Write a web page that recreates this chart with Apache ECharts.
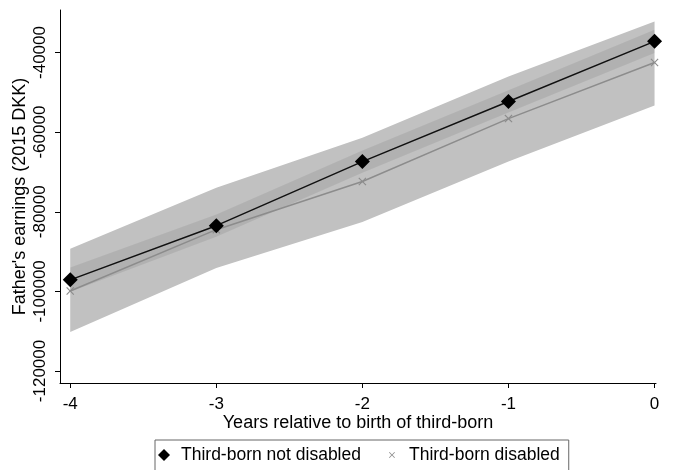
<!DOCTYPE html>
<html><head><meta charset="utf-8">
<script src="https://cdn.jsdelivr.net/npm/echarts@6/dist/echarts.min.js"></script>
<style>html,body{margin:0;padding:0;background:#fff}#c{width:674px;height:470px}</style>
</head><body><div id="c"></div>
<script>
const years = [-4, -3, -2, -1, 0];
const notDisabled = [-97100, -83500, -67400, -52300, -37200];
const notDisabledLo = [-100100, -86300, -70200, -55100, -40100];
const notDisabledHi = [-94000, -80700, -64600, -49500, -34300];
const disabled = [-99900, -84500, -72400, -56600, -42500];
const disabledLo = [-110200, -94100, -82600, -67400, -53300];
const disabledHi = [-89300, -74000, -61400, -46000, -32200];
const yTicks = [-120000, -100000, -80000, -60000, -40000];
const xTicks = [-4, -3, -2, -1, 0];

const F = 'Liberation Sans, Arial, sans-serif';
const xPath = 'path://M0,1 L1,0 L5,4 L9,0 L10,1 L6,5 L10,9 L9,10 L5,6 L1,10 L0,9 L4,5 Z';
const xPathSmall = 'path://M0,0 L0.01,0 L0,0.01 Z M20,20 L19.99,20 L20,19.99 Z M5,6 L6,5 L10,9 L14,5 L15,6 L11,10 L15,14 L14,15 L10,11 L6,15 L5,14 L9,10 Z';
const pairs = (arr) => years.map((x, i) => [x, arr[i]]);

function band(name, lo, hi, color, z) {
  return {
    type: 'custom', name: name, data: pairs(lo), silent: true, z: z,
    encode: {x: 0, y: 1},
    renderItem: function (params, api) {
      if (params.dataIndex !== 0) return null;
      const pts = [];
      for (let i = 0; i < years.length; i++) pts.push(api.coord([years[i], hi[i]]));
      for (let i = years.length - 1; i >= 0; i--) pts.push(api.coord([years[i], lo[i]]));
      return {type: 'polygon', shape: {points: pts}, style: {fill: color}};
    }
  };
}

const chart = echarts.init(document.getElementById('c'), null, {renderer: 'canvas'});
chart.setOption({
  animation: false,
  backgroundColor: '#fff',
  grid: {left: 60, right: 18, top: 10, bottom: 87},
  xAxis: {
    type: 'value', min: -4.07, max: 0.01,
    name: 'Years relative to birth of third-born', nameLocation: 'middle', nameGap: 31,
    nameMoveOverlap: false,
    nameTextStyle: {fontFamily: F, fontSize: 18, color: '#000'},
    axisLine: {show: true, onZero: false, lineStyle: {color: '#000', width: 1}},
    axisTick: {show: true, length: 5, customValues: xTicks, lineStyle: {color: '#000'}},
    axisLabel: {customValues: xTicks, fontFamily: F, fontSize: 17, color: '#000', margin: 13,
                formatter: v => String(v)},
    splitLine: {show: false}
  },
  yAxis: {
    type: 'value', min: -123014, max: -29324,
    name: "Father's earnings (2015 DKK)", nameLocation: 'middle', nameGap: 31,
    nameMoveOverlap: false,
    nameTextStyle: {fontFamily: F, fontSize: 18, color: '#000'},
    axisLine: {show: true, onZero: false, lineStyle: {color: '#000', width: 1}},
    axisTick: {show: true, length: 5, customValues: yTicks, lineStyle: {color: '#000'}},
    axisLabel: {customValues: yTicks, rotate: 90, fontFamily: F, fontSize: 17, color: '#000', margin: 11,
                formatter: v => String(v)},
    splitLine: {show: false}
  },
  legend: {
    left: 155, top: 440, orient: 'horizontal',
    data: [
      {name: 'Third-born not disabled', icon: 'diamond'},
      {name: 'Third-born disabled', icon: xPathSmall}
    ],
    itemWidth: 12, itemHeight: 12, itemGap: 25,
    textStyle: {fontFamily: F, fontSize: 17.5, color: '#000', padding: [0, 0, 0, 6]},
    borderColor: '#666', borderWidth: 1, borderRadius: 0,
    padding: [6, 9, 10, 3], backgroundColor: '#fff'
  },
  series: [
    band('outer', disabledLo, disabledHi, '#c1c1c1', 1),
    band('inner', notDisabledLo, notDisabledHi, 'rgba(0,0,0,0.08)', 2),
    {type: 'line', name: 'Third-born disabled', data: pairs(disabled), z: 5,
     symbol: xPath, symbolSize: 8, itemStyle: {color: '#8c8c8c'},
     lineStyle: {color: '#8c8c8c', width: 1.5}},
    {type: 'line', name: 'Third-born not disabled', data: pairs(notDisabled), z: 6,
     symbol: 'diamond', symbolSize: 15, itemStyle: {color: '#000'},
     lineStyle: {color: '#111', width: 1.5}}
  ]
});
</script></body></html>
